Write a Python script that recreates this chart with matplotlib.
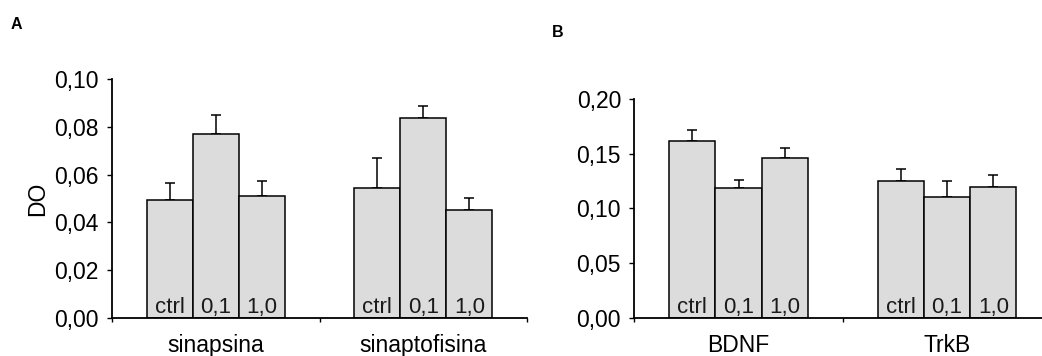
import matplotlib
matplotlib.use("Agg")
import matplotlib.pyplot as plt
import numpy as np

plt.rcParams['font.family'] = ['Liberation Sans', 'DejaVu Sans']

# ---- data ----
conditions = ["ctrl", "0,1", "1,0"]

A_groups = ["sinapsina", "sinaptofisina"]
A_ctrl = [0.0492, 0.0545]
A_01 = [0.0769, 0.0837]
A_10 = [0.0512, 0.0451]
A_err_ctrl = [0.0073, 0.0124]
A_err_01 = [0.0082, 0.0051]
A_err_10 = [0.0061, 0.0051]
A_yticks = [0.00, 0.02, 0.04, 0.06, 0.08, 0.10]
A_yticklabels = ["0,00", "0,02", "0,04", "0,06", "0,08", "0,10"]
A_ylabel = "DO"

B_groups = ["BDNF", "TrkB"]
B_ctrl = [0.1611, 0.1249]
B_01 = [0.1183, 0.1101]
B_10 = [0.1456, 0.1195]
B_err_ctrl = [0.0106, 0.0110]
B_err_01 = [0.0078, 0.0146]
B_err_10 = [0.0094, 0.0112]
B_yticks = [0.00, 0.05, 0.10, 0.15, 0.20]
B_yticklabels = ["0,00", "0,05", "0,10", "0,15", "0,20"]

BAR_COLOR = "#dcdcdc"
FS_TICK = 16.5
FS_CAT = 16.5
FS_IN = 16

fig = plt.figure(figsize=(10.42, 3.56), dpi=100)
axA = fig.add_axes([112/1042, 38/356, 415/1042, 239/356])
axB = fig.add_axes([634.3/1042, 38/356, 417/1042, 219.3/356])


def draw_panel(ax, groups, series, errs, yticks, yticklabels, ylabel=None):
    width = 0.222
    centers = np.arange(len(groups)) + 0.5
    for i, (vals, err) in enumerate(zip(series, errs)):
        x = centers + (i - 1) * width
        ax.errorbar(x, vals, yerr=[np.zeros(len(vals)), err], fmt='none',
                    ecolor='black', elinewidth=1.1, capsize=3.5, capthick=1.1,
                    zorder=1)
        ax.bar(x, vals, width=width, color=BAR_COLOR, edgecolor='black',
               linewidth=1.1, zorder=2)
        for xi in x:
            ax.annotate(conditions[i], xy=(xi, 0), xytext=(0, 3.4),
                        textcoords='offset points', ha='center', va='baseline',
                        fontsize=FS_IN, color='#1a1a1a', zorder=3)
    ax.set_xlim(0, len(groups))
    ax.set_ylim(yticks[0], yticks[-1])
    ax.set_yticks(yticks)
    ax.set_yticklabels(yticklabels)
    ax.set_xticks(np.arange(len(groups) + 1))
    ax.set_xticklabels([])
    ax.set_xticks(centers, minor=True)
    ax.set_xticklabels(groups, minor=True)
    ax.tick_params(axis='x', which='major', direction='out', length=3, width=1)
    ax.tick_params(axis='x', which='minor', length=0, pad=11.5, labelsize=FS_CAT)
    ax.tick_params(axis='y', direction='out', length=3.5, width=1, pad=6,
                   labelsize=FS_TICK)
    for s in ['top', 'right']:
        ax.spines[s].set_visible(False)
    for s in ['left', 'bottom']:
        ax.spines[s].set_linewidth(1.3)
    ax.spines['bottom'].set_clip_on(False)
    if ylabel:
        ax.set_ylabel(ylabel, fontsize=FS_TICK, labelpad=4)


draw_panel(axA, A_groups, [A_ctrl, A_01, A_10], [A_err_ctrl, A_err_01, A_err_10],
           A_yticks, A_yticklabels, A_ylabel)
draw_panel(axB, B_groups, [B_ctrl, B_01, B_10], [B_err_ctrl, B_err_01, B_err_10],
           B_yticks, B_yticklabels)

fig.text(11/1042, 1 - 29.3/356, "A", fontsize=11.5, fontweight='bold', ha='left', va='baseline')
fig.text(552/1042, 1 - 36.7/356, "B", fontsize=11.5, fontweight='bold', ha='left', va='baseline')

fig.savefig("out.png", dpi=100)
